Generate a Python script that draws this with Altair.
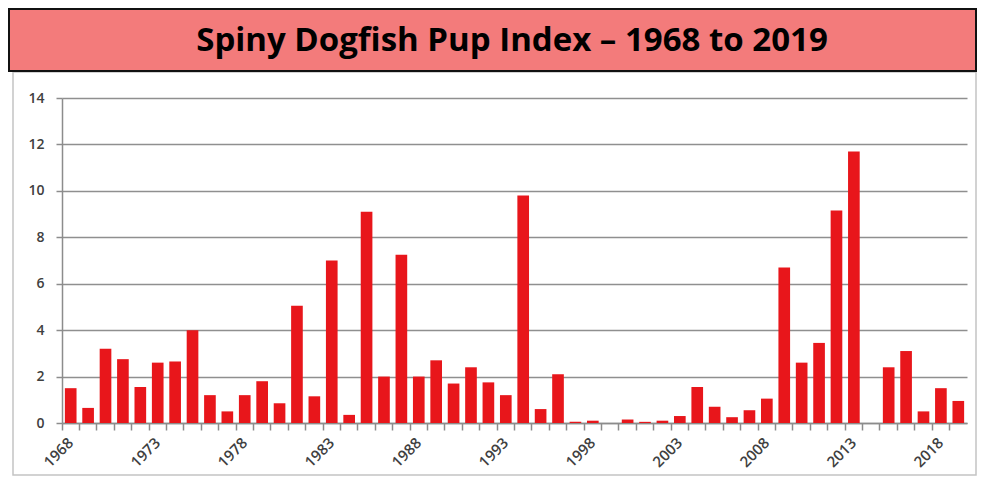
import altair as alt
import pandas as pd

years = list(range(1968, 2020))
index_values = [
    1.5, 0.65, 3.2, 2.75, 1.55, 2.6, 2.65, 4.0, 1.2, 0.5,
    1.2, 1.8, 0.85, 5.05, 1.15, 7.0, 0.35, 9.1, 2.0, 7.25,
    2.0, 2.7, 1.7, 2.4, 1.75, 1.2, 9.8, 0.6, 2.1, 0.05,
    0.1, 0.0, 0.15, 0.05, 0.1, 0.3, 1.55, 0.7, 0.25, 0.55,
    1.05, 6.7, 2.6, 3.45, 9.15, 11.7, 0.0, 2.4, 3.1, 0.5,
    1.5, 0.95,
]
y_ticks = [0, 2, 4, 6, 8, 10, 12, 14]
title_text = "Spiny Dogfish Pup Index \u2013 1968 to 2019"

df = pd.DataFrame({"year": years, "value": index_values})

W, H = 905, 325
FONT = "Open Sans"

x_scale = alt.Scale(paddingInner=0, paddingOuter=0)
y_scale = alt.Scale(domain=[0, 14], nice=False)

bars = alt.Chart(df).mark_bar(color="#E8161B", width=alt.RelativeBandSize(0.67)).encode(
    x=alt.X("year:O", scale=x_scale, title=None,
            axis=alt.Axis(orient="bottom", ticks=False, domain=True, domainColor="#8c8c8c",
                          domainWidth=1.5, labelAngle=-45, labelAlign="right",
                          labelBaseline="middle", labelPadding=17, labelFont=FONT,
                          labelFontSize=15, labelColor="#404040", labelFontWeight=600,
                          labelExpr="(datum.value - 1968) % 5 === 0 ? datum.label : ''",
                          labelOverlap=False)),
    y=alt.Y("value:Q", scale=y_scale, title=None,
            axis=alt.Axis(values=y_ticks, grid=True, gridColor="#8f8f8f", gridWidth=1.5,
                          domain=True, domainColor="#8c8c8c", domainWidth=1.5,
                          tickColor="#8c8c8c", tickSize=6, tickWidth=1.5,
                          labelFont=FONT, labelFontSize=14, labelColor="#404040",
                          labelFontWeight=600, labelPadding=12)),
)

tick_layer = alt.Chart(df).mark_bar(opacity=0).encode(
    x=alt.X("year:O", scale=x_scale, title=None,
            axis=alt.Axis(orient="bottom", bandPosition=0, ticks=True, tickSize=7,
                          tickColor="#8c8c8c", tickWidth=1.5, labels=False,
                          domain=False, grid=False)),
    y=alt.Y("value:Q", scale=y_scale),
)

deco = alt.Data(values=[{"t": title_text}])

frame = alt.Chart(deco).mark_rect(fill="transparent", stroke="#c4c4c4", strokeWidth=1.5).encode(
    x=alt.value(-49), x2=alt.value(914), y=alt.value(-26), y2=alt.value(377)
)

banner = alt.Chart(deco).mark_rect(fill="#F37B7B", stroke="#111111", strokeWidth=2).encode(
    x=alt.value(-53), x2=alt.value(914), y=alt.value(-89), y2=alt.value(-27)
)

title = alt.Chart(deco).mark_text(font="Open Sans", fontSize=33, fontWeight="bold", color="#000000",
                                  align="center", baseline="alphabetic").encode(
    x=alt.value(450), y=alt.value(-47), text="t:N"
)

chart = alt.layer(frame, bars, tick_layer, banner, title).resolve_axis(x="independent").properties(
    width=W, height=H, padding=0, background="white"
).configure_view(stroke="transparent")

chart.save("out.html", embed_options={"renderer": "svg", "actions": False})
